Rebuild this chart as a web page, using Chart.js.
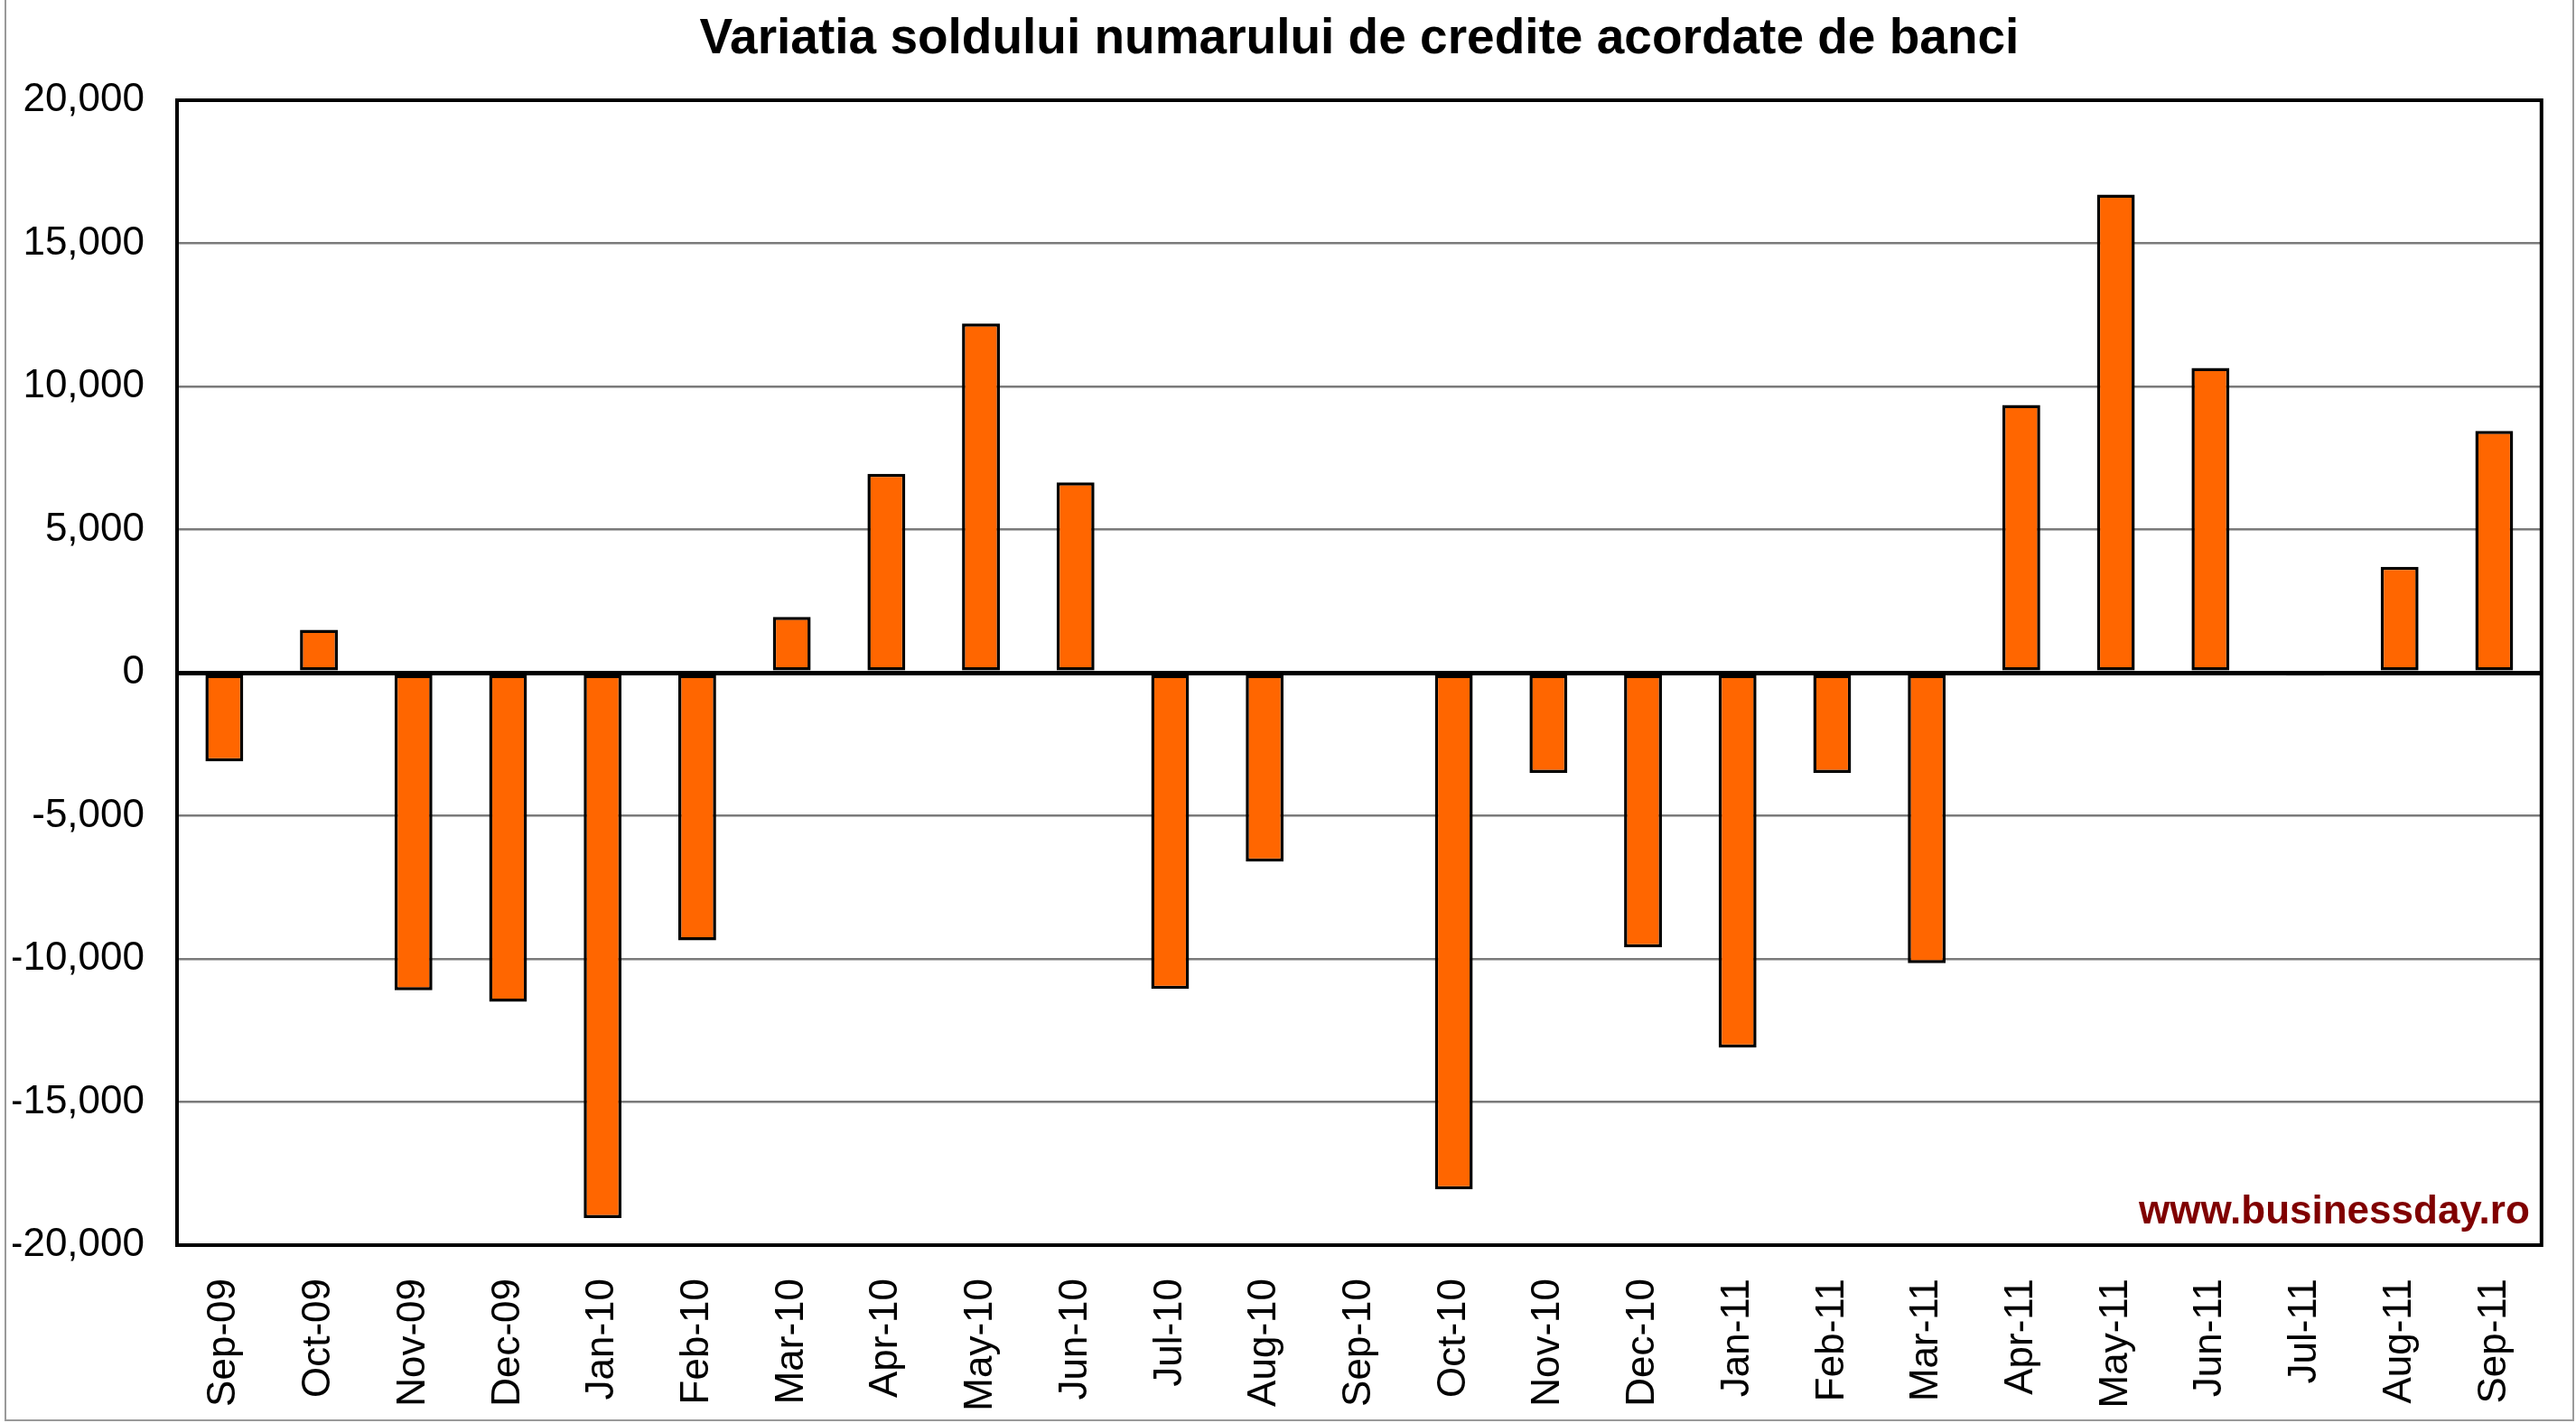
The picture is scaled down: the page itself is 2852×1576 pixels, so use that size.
<!DOCTYPE html>
<html>
<head>
<meta charset="utf-8">
<title>Variatia soldului numarului de credite acordate de banci</title>
<script src="https://cdn.jsdelivr.net/npm/chart.js@4.4.0/dist/chart.umd.min.js"></script>
<style>
  html, body { margin: 0; padding: 0; background: #ffffff; }
  #wrap { width: 2852px; height: 1576px; position: relative; }
</style>
</head>
<body>
<div id="wrap"><canvas id="chart"></canvas></div>
<script>
// Date
const luni = [
  'Sep-09', 'Oct-09', 'Nov-09', 'Dec-09', 'Jan-10', 'Feb-10', 'Mar-10', 'Apr-10', 'May-10',
  'Jun-10', 'Jul-10', 'Aug-10', 'Sep-10', 'Oct-10', 'Nov-10', 'Dec-10', 'Jan-11', 'Feb-11',
  'Mar-11', 'Apr-11', 'May-11', 'Jun-11', 'Jul-11', 'Aug-11', 'Sep-11'
];
const variatie = [
  -3100, 1500, -11100, -11500, -19050, -9350, 1950, 6950, 12200,
  6650, -11050, -6600, 80, -18050, -3500, -9600, -13100, -3500,
  -10150, 9350, 16700, 10650, -100, 3700, 8450
];
const axaY = { min: -20000, max: 20000, pas: 5000 };

const titlu = 'Variatia soldului numarului de credite acordate de banci';
const sursa = 'www.businessday.ro';

// Chenarul zonei de desen, sursa si marginea gri a imaginii
const decor = {
  id: 'decor',
  afterDatasetsDraw(chart) {
    const { ctx, chartArea: a } = chart;
    ctx.save();
    ctx.strokeStyle = '#000000';
    ctx.lineWidth = 4;
    ctx.strokeRect(a.left, a.top, a.right - a.left, a.bottom - a.top);

    ctx.fillStyle = '#800000';
    ctx.font = 'bold 44px "Liberation Sans", Arial, sans-serif';
    ctx.textAlign = 'right';
    ctx.textBaseline = 'alphabetic';
    ctx.fillText(sursa, a.right - 13, a.bottom - 24);

    ctx.strokeStyle = '#9a9a9a';
    ctx.lineWidth = 2;
    ctx.beginPath();
    ctx.moveTo(6, 0);
    ctx.lineTo(6, 1573);
    ctx.lineTo(2849, 1573);
    ctx.lineTo(2849, 0);
    ctx.stroke();
    ctx.restore();
  }
};

const fontEtichete = { family: '"Liberation Sans", Arial, sans-serif', size: 44 };

new Chart(document.getElementById('chart'), {
  type: 'bar',
  data: {
    labels: luni,
    datasets: [{
      data: variatie,
      backgroundColor: '#FF6600',
      borderColor: '#000000',
      borderWidth: 3.5,
      borderSkipped: false,
      barPercentage: 0.4,
      categoryPercentage: 1.0
    }]
  },
  options: {
    responsive: true,
    maintainAspectRatio: false,
    animation: false,
    devicePixelRatio: 1,
    layout: { padding: { left: 14, right: 35, top: 0, bottom: 14 } },
    plugins: {
      legend: { display: false },
      tooltip: { enabled: false },
      title: {
        display: true,
        text: titlu,
        fullSize: false,
        color: '#000000',
        font: { family: '"Liberation Sans", Arial, sans-serif', size: 55, weight: 'bold', lineHeight: 1.2 },
        padding: { top: 11, bottom: 34 }
      }
    },
    scales: {
      x: {
        grid: { display: false, drawTicks: false },
        border: { display: false },
        ticks: {
          color: '#000000',
          font: fontEtichete,
          minRotation: 90,
          maxRotation: 90,
          autoSkip: false,
          padding: 37
        },
        afterFit: scale => { scale.height = 183; }
      },
      y: {
        min: axaY.min,
        max: axaY.max,
        grid: {
          drawTicks: false,
          color: ctx => ctx.tick && ctx.tick.value === 0 ? '#000000' : '#7a7a7a',
          lineWidth: ctx => ctx.tick && ctx.tick.value === 0 ? 5 : 2.5
        },
        border: { display: true, color: '#000000', width: 4 },
        ticks: {
          stepSize: axaY.pas,
          color: '#000000',
          font: fontEtichete,
          padding: 36,
          callback: v => v.toLocaleString('en-US')
        },
        afterFit: scale => { scale.width = 182; }
      }
    }
  },
  plugins: [decor]
});
</script>
</body>
</html>
